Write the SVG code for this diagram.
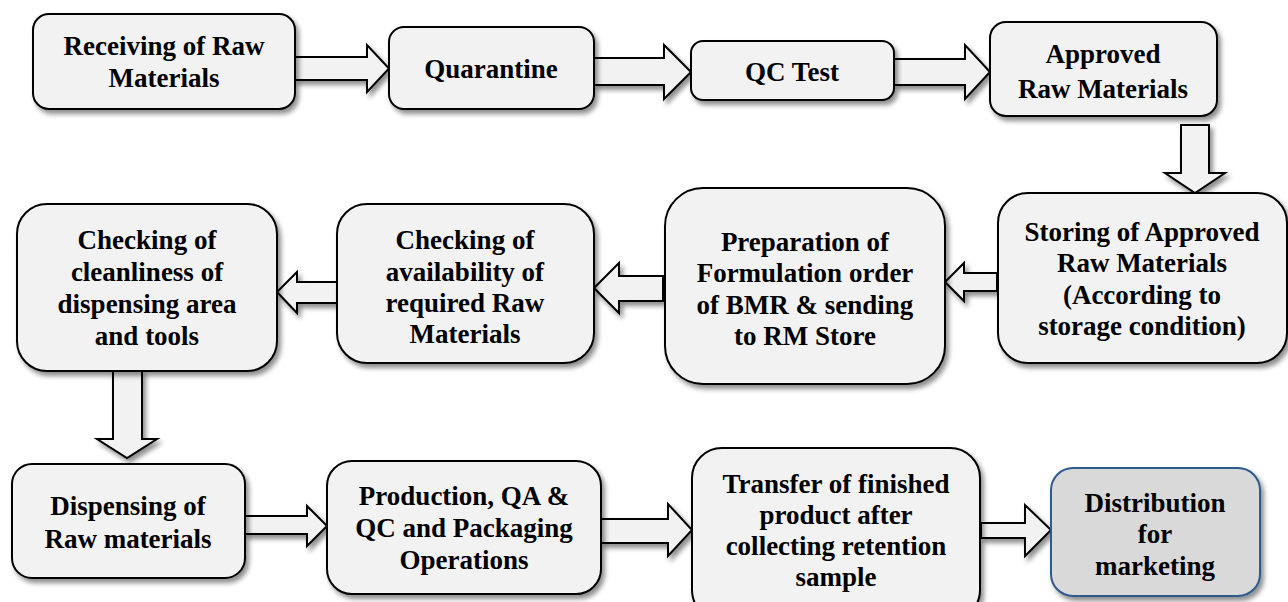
<svg xmlns="http://www.w3.org/2000/svg" width="1288" height="602" viewBox="0 0 1288 602">
<defs>
<filter id="sh" x="-10%" y="-10%" width="130%" height="140%">
<feGaussianBlur in="SourceAlpha" stdDeviation="2.5"/>
<feOffset dx="3" dy="4" result="b"/>
<feComponentTransfer><feFuncA type="linear" slope="0.45"/></feComponentTransfer>
<feMerge><feMergeNode/><feMergeNode in="SourceGraphic"/></feMerge>
</filter>
<style>
.box{fill:#f2f2f2;stroke:#000;stroke-width:2;filter:url(#sh)}
.dist{fill:#d9d9d9;stroke:#2f5a8f;stroke-width:2;filter:url(#sh)}
.arr{fill:#f2f2f2;stroke:#000;stroke-width:2;stroke-linejoin:miter;filter:url(#sh)}
.t{font-family:'Liberation Serif','DejaVu Serif',serif;font-weight:bold;font-size:27px;fill:#000;text-anchor:middle}
</style>
</defs>
<rect width="1288" height="602" fill="#fff"/>
<g id="connectors">
<polygon class="arr" points="295,57 367,57 367,45 389,68.5 367,92 367,80 295,80"/>
<polygon class="arr" points="594,58 664,58 664,45 691,72 664,99 664,85 594,85"/>
<polygon class="arr" points="894,59 965,59 965,45 990,72 965,99 965,85 894,85"/>
<polygon class="arr" points="1181,125 1209,125 1209,173 1225,173 1195,193 1165,173 1181,173"/>
<polygon class="arr" points="997,273 964,273 964,263 945,282 964,301 964,291 997,291"/>
<polygon class="arr" points="663,276 619,276 619,263 594,288 619,313 619,301 663,301"/>
<polygon class="arr" points="337,282 297,282 297,272 277,292 297,313 297,303 337,303"/>
<polygon class="arr" points="113,371 142,371 142,439 157,439 127,458 97,439 113,439"/>
<polygon class="arr" points="245,516 307,516 307,506 327,526 307,546 307,534 245,534"/>
<polygon class="arr" points="601,519 668,519 668,504 692,530 668,556 668,543 601,543"/>
<polygon class="arr" points="981,523 1025,523 1025,505 1051,530 1025,556 1025,538 981,538"/>
</g>
<g id="n1"><rect class="box" x="33" y="14" width="262" height="95" rx="16"/>
<text class="t" x="164" y="55">Receiving of Raw</text><text class="t" x="164" y="87">Materials</text></g>
<g id="n2"><rect class="box" x="389" y="27" width="205" height="82" rx="15"/>
<text class="t" x="491" y="78">Quarantine</text></g>
<g id="n3"><rect class="box" x="691" y="41" width="203" height="59" rx="12"/>
<text class="t" x="792" y="81">QC Test</text></g>
<g id="n4"><rect class="box" x="990" y="22" width="227" height="94" rx="16"/>
<text class="t" x="1103" y="63">Approved</text><text class="t" x="1103" y="98">Raw Materials</text></g>
<g id="n5"><rect class="box" x="998" y="193" width="289" height="170" rx="30"/>
<text class="t" x="1142" y="241">Storing of Approved</text><text class="t" x="1142" y="272">Raw Materials</text><text class="t" x="1142" y="304">(According to</text><text class="t" x="1142" y="335">storage condition)</text></g>
<g id="n6"><rect class="box" x="665" y="188" width="280" height="196" rx="38"/>
<text class="t" x="805" y="251">Preparation of</text><text class="t" x="805" y="282">Formulation order</text><text class="t" x="805" y="314">of BMR &amp; sending</text><text class="t" x="805" y="345">to RM Store</text></g>
<g id="n7"><rect class="box" x="337" y="204" width="257" height="159" rx="30"/>
<text class="t" x="465" y="249">Checking of</text><text class="t" x="465" y="281">availability of</text><text class="t" x="465" y="312">required Raw</text><text class="t" x="465" y="343">Materials</text></g>
<g id="n8"><rect class="box" x="17" y="204" width="260" height="167" rx="30"/>
<text class="t" x="147" y="249">Checking of</text><text class="t" x="147" y="281">cleanliness of</text><text class="t" x="147" y="313">dispensing area</text><text class="t" x="147" y="345">and tools</text></g>
<g id="n9"><rect class="box" x="12" y="464" width="233" height="114" rx="20"/>
<text class="t" x="128" y="515">Dispensing of</text><text class="t" x="128" y="548">Raw materials</text></g>
<g id="n10"><rect class="box" x="327" y="461" width="274" height="133" rx="25"/>
<text class="t" x="464" y="505">Production, QA &amp;</text><text class="t" x="464" y="537">QC and Packaging</text><text class="t" x="464" y="569">Operations</text></g>
<g id="n11"><rect class="box" x="692" y="448" width="288" height="172" rx="30"/>
<text class="t" x="836" y="493">Transfer of finished</text><text class="t" x="836" y="524">product after</text><text class="t" x="836" y="555">collecting retention</text><text class="t" x="836" y="586">sample</text></g>
<g id="n12"><rect class="dist" x="1051" y="468" width="209" height="128" rx="22"/>
<text class="t" x="1155" y="512">Distribution</text><text class="t" x="1155" y="543">for</text><text class="t" x="1155" y="575">marketing</text></g>
</svg>
